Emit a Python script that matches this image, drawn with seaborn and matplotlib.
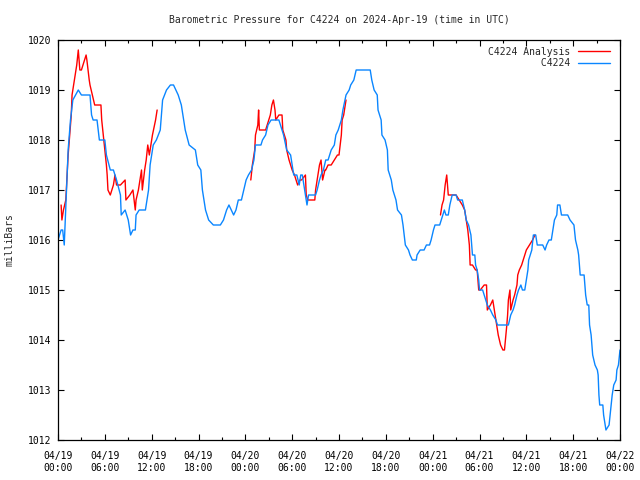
import matplotlib.dates as mdates
import matplotlib.pyplot as plt
import pandas as pd
import seaborn as sns
from matplotlib.lines import Line2D

plt.switch_backend("Agg")
sns.set_style("ticks")
plt.rcParams["font.family"] = ["DejaVu Sans Mono"]

START = pd.Timestamp("2024-04-19 00:00")
TITLE = "Barometric Pressure for C4224 on 2024-Apr-19 (time in UTC)"
BLUE = "#0a86ff"
RED = "#ff0000"

# station series (hours after start, millibars)
obs_hours = [
    0, 0.4, 0.6, 0.8, 1.3, 1.6, 1.9, 2.6, 3.0, 4.1, 4.3, 4.5, 5.0, 5.3, 6.0, 6.2, 6.7, 7.1,
    7.5, 8.0, 8.1, 8.6, 9.0, 9.3, 9.6, 9.9, 10.0, 10.4, 11.2, 11.6, 11.8, 12.2, 12.6, 13.1,
    13.4, 13.9, 14.4, 14.8, 15.4, 15.8, 16.3, 16.8, 17.6, 17.9, 18.3, 18.5, 18.9, 19.3, 19.9,
    20.8, 21.2, 21.6, 21.9, 22.5, 22.8, 23.1, 23.5, 23.8, 24.1, 24.4, 24.8, 25.1, 25.3, 26.0,
    26.2, 26.6, 26.9, 27.3, 27.9, 28.3, 28.9, 29.3, 29.8, 30.0, 30.2, 30.6, 30.9, 31.1, 31.3,
    31.5, 31.7, 31.9, 32.1, 33.0, 33.2, 33.5, 33.7, 34.0, 34.3, 34.6, 35.0, 35.4, 35.6, 35.9,
    36.3, 36.5, 36.9, 37.3, 37.5, 37.9, 38.2, 40.0, 40.2, 40.5, 40.9, 41.0, 41.4, 41.5, 41.9,
    42.2, 42.3, 42.7, 42.9, 43.3, 43.5, 44.0, 44.2, 44.5, 44.9, 45.1, 45.4, 45.9, 46.0, 46.4,
    46.9, 47.2, 47.6, 47.8, 48.1, 48.3, 48.9, 49.1, 49.5, 49.7, 50.0, 50.2, 50.5, 51.0, 51.2,
    51.5, 51.8, 52.1, 52.3, 52.6, 52.9, 53.1, 53.4, 53.5, 53.7, 53.9, 54.0, 54.4, 54.6, 55.0,
    55.4, 55.7, 56.1, 56.3, 57.7, 58.0, 58.3, 58.5, 58.8, 59.0, 59.3, 59.5, 59.8, 60.0, 60.2,
    60.3, 60.7, 60.9, 61.2, 61.4, 62.1, 62.4, 62.6, 62.9, 63.2, 63.4, 63.6, 63.9, 64.0, 64.3,
    64.5, 65.3, 65.6, 66.1, 66.3, 66.6, 66.7, 66.9, 67.4, 67.6, 67.8, 68.0, 68.1, 68.3, 68.4,
    68.5, 68.8, 69.1, 69.2, 69.3, 69.4, 69.8, 69.9, 70.1, 70.2, 70.6, 70.8, 71.0, 71.2, 71.5,
    71.6, 71.8, 72.0,
]
obs_mb = [
    1016.0, 1016.2, 1016.2, 1015.9, 1017.8, 1018.4, 1018.8, 1019.0, 1018.9, 1018.9, 1018.5,
    1018.4, 1018.4, 1018.0, 1018.0, 1017.7, 1017.4, 1017.4, 1017.2, 1016.9, 1016.5, 1016.6,
    1016.4, 1016.1, 1016.2, 1016.2, 1016.5, 1016.6, 1016.6, 1017.0, 1017.5, 1017.9, 1018.0,
    1018.2, 1018.8, 1019.0, 1019.1, 1019.1, 1018.9, 1018.7, 1018.2, 1017.9, 1017.8, 1017.5,
    1017.4, 1017.0, 1016.6, 1016.4, 1016.3, 1016.3, 1016.4, 1016.6, 1016.7, 1016.5, 1016.6,
    1016.8, 1016.8, 1017.0, 1017.2, 1017.3, 1017.4, 1017.6, 1017.9, 1017.9, 1018.0, 1018.1,
    1018.3, 1018.4, 1018.4, 1018.4, 1018.1, 1017.8, 1017.7, 1017.5, 1017.3, 1017.3, 1017.1,
    1017.3, 1017.3, 1017.1, 1016.9, 1016.7, 1016.9, 1016.9, 1017.0, 1017.2, 1017.3, 1017.4,
    1017.6, 1017.6, 1017.8, 1017.9, 1018.1, 1018.2, 1018.4, 1018.6, 1018.9, 1019.0, 1019.1,
    1019.2, 1019.4, 1019.4, 1019.2, 1019.0, 1018.9, 1018.6, 1018.4, 1018.1, 1018.0, 1017.8,
    1017.4, 1017.2, 1017.0, 1016.8, 1016.6, 1016.5, 1016.3, 1015.9, 1015.8, 1015.7, 1015.6,
    1015.6, 1015.7, 1015.8, 1015.8, 1015.9, 1015.9, 1016.0, 1016.2, 1016.3, 1016.3, 1016.4,
    1016.6, 1016.5, 1016.5, 1016.7, 1016.9, 1016.9, 1016.8, 1016.8, 1016.8, 1016.6, 1016.4,
    1016.3, 1016.1, 1015.7, 1015.7, 1015.5, 1015.4, 1015.2, 1015.0, 1015.0, 1014.9, 1014.7,
    1014.6, 1014.5, 1014.4, 1014.3, 1014.3, 1014.5, 1014.6, 1014.7, 1014.9, 1015.0, 1015.1,
    1015.0, 1015.0, 1015.2, 1015.4, 1015.6, 1015.8, 1016.1, 1016.1, 1015.9, 1015.9, 1015.8,
    1015.9, 1016.0, 1016.0, 1016.2, 1016.4, 1016.5, 1016.7, 1016.7, 1016.5, 1016.5, 1016.4,
    1016.3, 1016.0, 1015.8, 1015.7, 1015.3, 1015.3, 1014.9, 1014.7, 1014.7, 1014.3, 1014.1,
    1013.9, 1013.7, 1013.5, 1013.4, 1013.3, 1012.9, 1012.7, 1012.7, 1012.5, 1012.3, 1012.2,
    1012.3, 1012.6, 1012.9, 1013.1, 1013.2, 1013.4, 1013.5, 1013.8,
]

# analysis series, three separate runs
ana1_hours = [
    0.4, 0.5, 0.7, 1.0, 1.2, 1.3, 1.5, 1.7, 1.8, 2.1, 2.4, 2.6, 2.7, 2.8, 3.0, 3.4, 3.6, 3.7,
    4.0, 4.1, 4.4, 4.7, 5.5, 5.6, 5.8, 6.0, 6.2, 6.3, 6.4, 6.7, 6.9, 7.1, 7.3, 7.5, 7.7, 8.0,
    8.6, 8.7, 9.2, 9.6, 9.9, 10.0, 10.3, 10.5, 10.7, 10.8, 11.1, 11.3, 11.5, 11.7, 11.8, 12.1,
    12.5, 12.7,
]
ana1_mb = [
    1016.7, 1016.4, 1016.6, 1016.8, 1017.4, 1017.7, 1018.1, 1018.5, 1018.9, 1019.2, 1019.5,
    1019.8, 1019.6, 1019.4, 1019.4, 1019.6, 1019.7, 1019.6, 1019.2, 1019.1, 1018.9, 1018.7,
    1018.7, 1018.4, 1018.1, 1017.8, 1017.5, 1017.3, 1017.0, 1016.9, 1017.0, 1017.1, 1017.3,
    1017.1, 1017.1, 1017.1, 1017.2, 1016.8, 1016.9, 1017.0, 1016.6, 1016.8, 1017.0, 1017.2,
    1017.4, 1017.0, 1017.4, 1017.6, 1017.9, 1017.7, 1017.8, 1018.1, 1018.4, 1018.6,
]
ana2_hours = [
    24.7, 24.9, 25.2, 25.3, 25.6, 25.7, 25.8, 26.6, 27.0, 27.2, 27.4, 27.6, 27.8, 27.9, 28.3,
    28.7, 28.8, 29.2, 29.3, 29.6, 29.8, 30.0, 30.3, 30.5, 30.7, 31.0, 31.2, 31.7, 31.8, 32.0,
    32.9, 33.0, 33.3, 33.5, 33.7, 33.9, 34.2, 34.3, 34.6, 35.0, 35.4, 35.8, 36.0, 36.3, 36.4,
    36.6, 36.9,
]
ana2_mb = [
    1017.2, 1017.5, 1017.8, 1018.1, 1018.3, 1018.6, 1018.2, 1018.2, 1018.4, 1018.5, 1018.7,
    1018.8, 1018.6, 1018.4, 1018.5, 1018.5, 1018.2, 1018.0, 1017.8, 1017.6, 1017.5, 1017.4,
    1017.3, 1017.2, 1017.1, 1017.2, 1017.2, 1017.3, 1016.9, 1016.8, 1016.8, 1017.0, 1017.3,
    1017.5, 1017.6, 1017.2, 1017.4, 1017.4, 1017.5, 1017.5, 1017.6, 1017.7, 1017.7, 1018.1,
    1018.4, 1018.5, 1018.8,
]
ana3_hours = [
    49.0, 49.2, 49.4, 49.6, 49.8, 50.0, 50.5, 51.0, 51.4, 51.8, 52.1, 52.3, 52.5, 52.7, 52.8,
    53.1, 53.5, 53.7, 53.9, 54.1, 54.6, 54.9, 55.0, 55.4, 55.7, 55.8, 56.1, 56.2, 56.4, 56.7,
    57.0, 57.2, 57.5, 57.6, 57.7, 57.9, 58.0, 58.3, 58.5, 58.8, 58.9, 59.1, 59.4, 59.8, 60.0,
    60.4, 60.8, 61.1,
]
ana3_mb = [
    1016.5, 1016.7, 1016.8, 1017.1, 1017.3, 1016.9, 1016.9, 1016.9, 1016.8, 1016.7, 1016.6,
    1016.4, 1016.2, 1015.9, 1015.5, 1015.5, 1015.4, 1015.4, 1015.0, 1015.0, 1015.1, 1015.1,
    1014.6, 1014.7, 1014.8, 1014.7, 1014.4, 1014.3, 1014.1, 1013.9, 1013.8, 1013.8, 1014.3,
    1014.5, 1014.8, 1015.0, 1014.6, 1014.8, 1014.9, 1015.1, 1015.3, 1015.4, 1015.5, 1015.7,
    1015.8, 1015.9, 1016.0, 1016.1,
]

Y_TICKS = [1012, 1013, 1014, 1015, 1016, 1017, 1018, 1019, 1020]


def to_frame(hours, mb):
    return pd.DataFrame({"time": START + pd.to_timedelta(hours, unit="h"), "mb": mb})


fig = plt.figure(figsize=(6.4, 4.8), dpi=100)
ax = fig.add_axes([58 / 640, 40 / 480, 562 / 640, 400 / 480])

for hours, mb in [(ana1_hours, ana1_mb), (ana2_hours, ana2_mb), (ana3_hours, ana3_mb)]:
    sns.lineplot(data=to_frame(hours, mb), x="time", y="mb", color=RED, lw=1.0, ax=ax)
sns.lineplot(data=to_frame(obs_hours, obs_mb), x="time", y="mb", color=BLUE, lw=1.0, ax=ax)

ax.set_xlim(START, START + pd.Timedelta(hours=72))
ax.set_ylim(1012, 1020)
ax.set_yticks(Y_TICKS)
ax.xaxis.set_major_locator(mdates.HourLocator(byhour=[0, 6, 12, 18]))
ax.xaxis.set_minor_locator(mdates.HourLocator(byhour=[3, 9, 15, 21]))
ax.xaxis.set_major_formatter(mdates.DateFormatter("%m/%d\n%H:%M"))
ax.set_xlabel("")
ax.set_ylabel("")
ax.tick_params(which="both", direction="in", top=True, right=True, colors="black", labelsize=7)
ax.tick_params(which="major", length=4, width=0.8)
ax.tick_params(which="minor", length=2.5, width=0.8)
ax.tick_params(axis="x", pad=8)
ax.tick_params(axis="y", pad=5)
for spine in ax.spines.values():
    spine.set_visible(True)
    spine.set_color("black")
    spine.set_linewidth(0.9)
ax.grid(False)

fig.text(339 / 640, 1 - 20 / 480, TITLE, ha="center", va="center", fontsize=7)
fig.text(10 / 640, 0.5, "milliBars", ha="center", va="center", rotation=90, fontsize=7)

handles = [Line2D([], [], color=RED, lw=1.0), Line2D([], [], color=BLUE, lw=1.0)]
labels = ["C4224 Analysis", "C4224".rjust(14)]
ax.legend(handles, labels, loc="upper right", frameon=False, markerfirst=False,
          handlelength=3.3, handletextpad=0.8, labelspacing=0.15, fontsize=7,
          borderaxespad=0.3, bbox_to_anchor=(0.995, 1.0))

fig.savefig("out.png", dpi=100)
plt.close(fig)
